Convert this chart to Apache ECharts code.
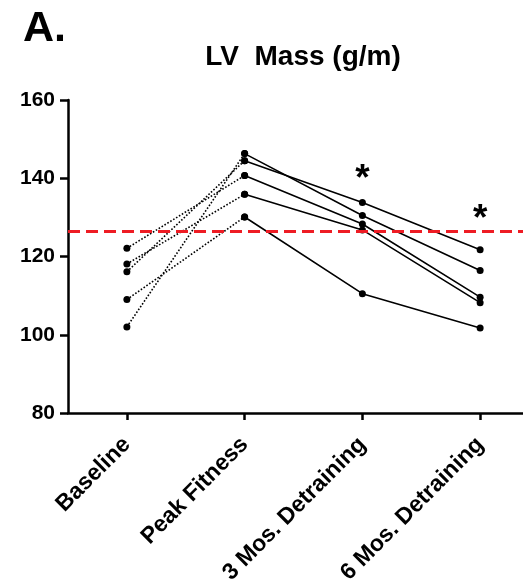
<!DOCTYPE html>
<html><head><meta charset="utf-8">
<script src="https://cdn.jsdelivr.net/npm/echarts@6/dist/echarts.min.js"></script>
<style>html,body{margin:0;padding:0;background:#fff}#c{width:523px;height:581px}</style>
</head><body><div id="c"></div>
<script>
// ---- data ----
const categories = ['Baseline', 'Peak Fitness', '3 Mos. Detraining', '6 Mos. Detraining'];
const subject1 = [102.0, 146.3, 130.5, 116.4];
const subject2 = [116.1, 144.5, 133.8, 121.7];
const subject3 = [122.1, 140.7, 128.3, 109.6];
const subject4 = [118.1, 135.9, 126.8, 108.2];
const subject5 = [109.0, 130.1, 110.5, 101.7];
const subjects = [subject1, subject2, subject3, subject4, subject5];
const yMin = 80, yMax = 160, yStep = 20;
const referenceLine = 126.4;
const asteriskCats = ['3 Mos. Detraining', '6 Mos. Detraining'];
const asteriskVals = [139.6, 129.3];
const titleText = 'LV  Mass (g/m)';
const panelLetter = 'A.';

// ---- chart ----
const FONT = 'Liberation Sans, Arial, Helvetica, sans-serif';
const chart = echarts.init(document.getElementById('c'), null, {renderer: 'canvas'});
const series = [];
subjects.forEach(s => {
  series.push({
    type: 'line', data: [s[0], s[1], null, null],
    symbol: 'circle', symbolSize: 7, itemStyle: {color: '#000'},
    lineStyle: {color: '#000', width: 1.6, type: [1.6, 1.8]},
    z: 3
  });
  series.push({
    type: 'line', data: [null, s[1], s[2], s[3]],
    symbol: 'circle', symbolSize: 7, itemStyle: {color: '#000'},
    lineStyle: {color: '#000', width: 1.6, type: 'solid'},
    z: 3
  });
});
series.push({
  type: 'line', data: [], z: 6,
  markLine: {
    silent: true, symbol: ['none', 'none'], animation: false,
    label: {show: false},
    lineStyle: {color: '#ee1c24', width: 3, type: [12, 6]},
    data: [{yAxis: referenceLine}]
  }
});
series.push({
  type: 'scatter', z: 7,
  data: asteriskCats.map((c, i) => [c, asteriskVals[i]]),
  symbolSize: 0, itemStyle: {color: '#000', opacity: 1},
  label: {show: true, position: 'inside', formatter: '*', color: '#000', opacity: 1,
          fontFamily: FONT, fontWeight: 'bold', fontSize: 37}
});

chart.setOption({
  animation: false,
  backgroundColor: '#fff',
  grid: {left: 68, top: 100, width: 471, height: 313, containLabel: false, outerBoundsMode: 'none'},
  graphic: [
    {type: 'text', left: 23, top: 8, style: {text: panelLetter, font: 'bold 43px ' + FONT, fill: '#000'}},
    {type: 'text', x: 303, y: 43, style: {text: titleText, font: 'bold 28px ' + FONT, fill: '#000', textAlign: 'center', textVerticalAlign: 'top'}}
  ],
  xAxis: {
    type: 'category', data: categories, boundaryGap: true,
    axisLine: {lineStyle: {color: '#000', width: 2.5}},
    axisTick: {show: true, alignWithLabel: true, length: 7, lineStyle: {color: '#000', width: 2.5}},
    axisLabel: {rotate: 45, margin: 28, color: '#000', fontFamily: FONT, fontWeight: 'bold', fontSize: 23, interval: 0},
    splitLine: {show: false}
  },
  yAxis: {
    type: 'value', min: yMin, max: yMax, interval: yStep,
    axisLine: {show: true, lineStyle: {color: '#000', width: 2.5}},
    axisTick: {show: true, length: 8, lineStyle: {color: '#000', width: 2.5}},
    axisLabel: {margin: 13, color: '#000', fontFamily: FONT, fontWeight: 'bold', fontSize: 21},
    splitLine: {show: false}
  },
  series: series
});
</script></body></html>
